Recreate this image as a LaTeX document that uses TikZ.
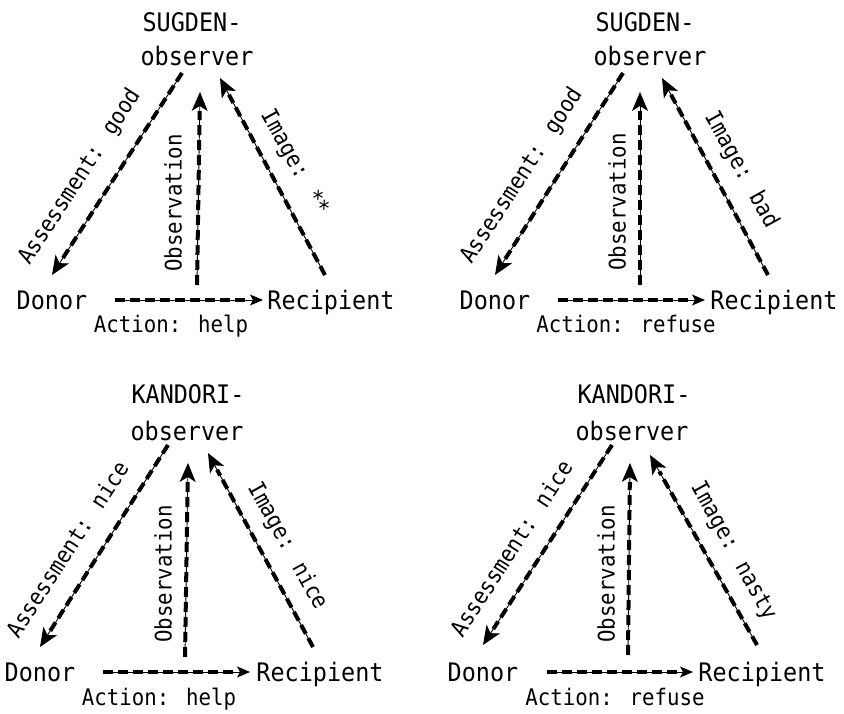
\documentclass[tikz,border=0pt]{standalone}
\usepackage{fontspec}
\setmainfont{DejaVu Sans Mono}
\newfontfamily\bigfont[FakeStretch=0.92]{DejaVu Sans Mono}
\newfontfamily\smlfont[FakeStretch=0.91]{DejaVu Sans Mono}
\usetikzlibrary{arrows.meta}
\tikzset{
  big/.style={font=\bigfont\fontsize{25.5}{28}\selectfont, inner sep=0pt, anchor=base},
  sml/.style={font=\smlfont\fontsize{22.8}{26}\selectfont, inner sep=0pt},
  conn/.style={line width=0.9pt, -{Stealth[length=19pt,width=16pt,inset=5pt]},
    postaction={draw, -, line width=4pt, dash pattern=on 10pt off 5pt, shorten >=19pt}},
  actconn/.style={line width=0.9pt, -{Stealth[length=13pt,width=11pt,inset=3pt]},
    postaction={draw, -, line width=4pt, dash pattern=on 10pt off 5pt, shorten >=14pt}},
}
\begin{document}
\begin{tikzpicture}[x=1pt,y=1pt]
\useasboundingbox (0,0) rectangle (844,-714);
% ---------- Panel 1 ----------
\node[big] (t1) at (192,-32) {SUGDEN-};
\node[big] (o1) at (197,-66) {observer};
\node[big] (d1) at (52,-309) {Donor};
\node[big] (r1) at (331,-309) {Recipient};
\node[sml, anchor=base] (ac1) at (171,-333) {Action: help};
\coordinate (a1s) at (182,-73);  \coordinate (a1e) at (52,-275);
\coordinate (b1s) at (197,-285); \coordinate (b1e) at (200,-92);
\coordinate (c1s) at (325,-275); \coordinate (c1e) at (220,-78);
\coordinate (h1s) at (115,-300); \coordinate (h1e) at (263,-300);
\draw[conn] (a1s) -- (a1e);
\draw[conn] (b1s) -- (b1e);
\draw[conn] (c1s) -- (c1e);
\draw[actconn] (h1s) -- (h1e);
\node[sml, rotate=57] (la1) at (80,-177) {Assessment: good};
\node[sml, rotate=90] (lb1) at (173,-203) {Observation};
\node[sml, rotate=-61] (lc1) at (294,-163) {Image: **};
% ---------- Panel 2 ----------
\node[big] (t2) at (645,-32) {SUGDEN-};
\node[big] (o2) at (650,-66) {observer};
\node[big] (d2) at (495,-309) {Donor};
\node[big] (r2) at (774,-309) {Recipient};
\node[sml, anchor=base] (ac2) at (626,-333) {Action: refuse};
\coordinate (a2s) at (623,-73);  \coordinate (a2e) at (495,-275);
\coordinate (b2s) at (640,-285); \coordinate (b2e) at (640,-92);
\coordinate (c2s) at (768,-275); \coordinate (c2e) at (662,-78);
\coordinate (h2s) at (558,-300); \coordinate (h2e) at (705,-300);
\draw[conn] (a2s) -- (a2e);
\draw[conn] (b2s) -- (b2e);
\draw[conn] (c2s) -- (c2e);
\draw[actconn] (h2s) -- (h2e);
\node[sml, rotate=57] (la2) at (522,-176) {Assessment: good};
\node[sml, rotate=90] (lb2) at (617,-202) {Observation};
\node[sml, rotate=-61] (lc2) at (741,-170) {Image: bad};
% ---------- Panel 3 ----------
\node[big] (t3) at (188,-403) {KANDORI-};
\node[big] (o3) at (187,-440) {observer};
\node[big] (d3) at (40,-681) {Donor};
\node[big] (r3) at (320,-681) {Recipient};
\node[sml, anchor=base] (ac3) at (159,-705) {Action: help};
\coordinate (a3s) at (168,-445); \coordinate (a3e) at (40,-647);
\coordinate (b3s) at (185,-657); \coordinate (b3e) at (188,-463);
\coordinate (c3s) at (313,-647); \coordinate (c3e) at (208,-453);
\coordinate (h3s) at (103,-672); \coordinate (h3e) at (250,-672);
\draw[conn] (a3s) -- (a3e);
\draw[conn] (b3s) -- (b3e);
\draw[conn] (c3s) -- (c3e);
\draw[actconn] (h3s) -- (h3e);
\node[sml, rotate=57] (la3) at (67,-549) {Assessment: nice};
\node[sml, rotate=90] (lb3) at (163,-574) {Observation};
\node[sml, rotate=-61] (lc3) at (287,-546) {Image: nice};
% ---------- Panel 4 ----------
\node[big] (t4) at (634,-403) {KANDORI-};
\node[big] (o4) at (632,-440) {observer};
\node[big] (d4) at (483,-681) {Donor};
\node[big] (r4) at (762,-681) {Recipient};
\node[sml, anchor=base] (ac4) at (615,-705) {Action: refuse};
\coordinate (a4s) at (612,-445); \coordinate (a4e) at (483,-645);
\coordinate (b4s) at (628,-655); \coordinate (b4e) at (630,-463);
\coordinate (c4s) at (757,-645); \coordinate (c4e) at (650,-455);
\coordinate (h4s) at (547,-672); \coordinate (h4e) at (693,-672);
\draw[conn] (a4s) -- (a4e);
\draw[conn] (b4s) -- (b4e);
\draw[conn] (c4s) -- (c4e);
\draw[actconn] (h4s) -- (h4e);
\node[sml, rotate=57] (la4) at (511,-548) {Assessment: nice};
\node[sml, rotate=90] (lb4) at (606,-574) {Observation};
\node[sml, rotate=-61] (lc4) at (733,-551) {Image: nasty};
\end{tikzpicture}
\end{document}
